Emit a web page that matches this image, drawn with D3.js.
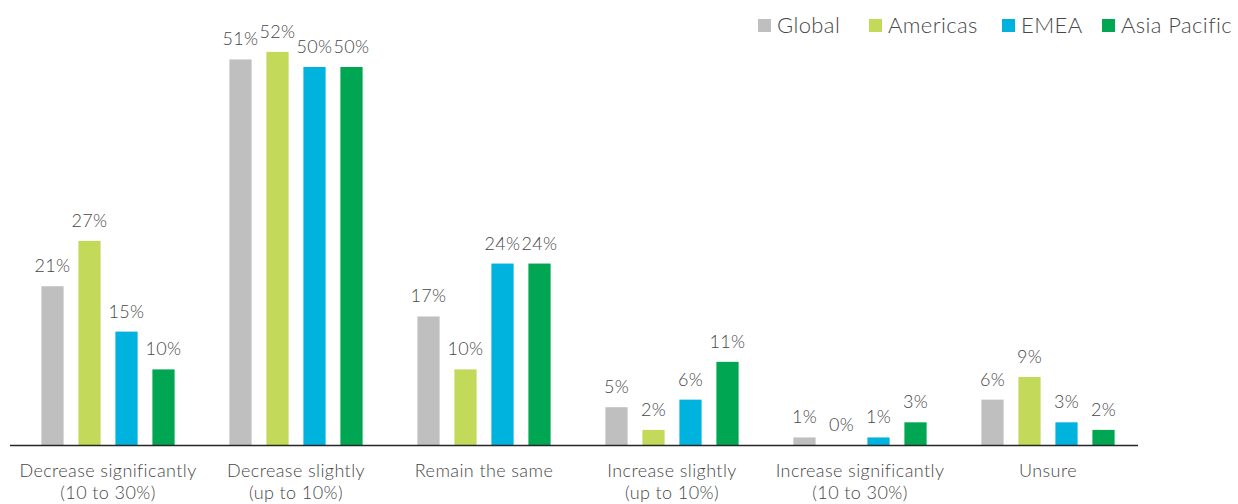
<!DOCTYPE html>
<html>
<head>
<meta charset="utf-8">
<script src="https://cdn.jsdelivr.net/npm/d3@7"></script>
<style>
  body { margin: 0; background: #fff; }
  svg { display: block; font-family: 'Lato', 'Open Sans', sans-serif; font-weight: 300; }
  text { fill: #474747; }
</style>
</head>
<body>
<svg id="chart" width="1238" height="504"></svg>
<script>
// ##### Data
var categories = [
  ['Decrease significantly', '(10 to 30%)'],
  ['Decrease slightly', '(up to 10%)'],
  ['Remain the same'],
  ['Increase slightly', '(up to 10%)'],
  ['Increase significantly', '(10 to 30%)'],
  ['Unsure']
];
var seriesNames = ['Global', 'Americas', 'EMEA', 'Asia Pacific'];
var globalValues = [21, 51, 17, 5, 1, 6];
var americasValues = [27, 52, 10, 2, 0, 9];
var emeaValues = [15, 50, 24, 6, 1, 3];
var asiaPacificValues = [10, 50, 24, 11, 3, 2];
var seriesColours = ['#bfbfbf', '#c3d95a', '#00b2de', '#00a651'];

var seriesValues = [globalValues, americasValues, emeaValues, asiaPacificValues];

// ##### Scales
var svg = d3.select('#chart');
var baseline = 445;

var x0 = d3.scaleBand()
  .domain(d3.range(categories.length))
  .range([14, 1142]);

var x1 = d3.scaleBand()
  .domain(seriesNames)
  .range([-74, 74])
  .paddingInner(0.4)
  .paddingOuter(0.2);

var y = d3.scaleLinear()
  .domain([0, 60])
  .range([baseline, baseline - 60 * 7.56]);

// ##### Bars and value labels
var groups = svg.append('g')
  .selectAll('g')
  .data(categories)
  .enter()
  .append('g')
  .attr('transform', function(d, i) { return 'translate(' + (x0(i) + x0.bandwidth() / 2) + ',0)'; });

groups.each(function(cat, ci) {
  var g = d3.select(this);
  var rows = seriesNames.map(function(name, si) {
    return { name: name, value: seriesValues[si][ci], colour: seriesColours[si] };
  });

  g.selectAll('rect')
    .data(rows)
    .enter()
    .append('rect')
    .attr('x', function(d) { return x1(d.name); })
    .attr('width', x1.bandwidth())
    .attr('y', function(d) { return y(d.value); })
    .attr('height', function(d) { return baseline - y(d.value); })
    .attr('fill', function(d) { return d.colour; });

  g.selectAll('text.value')
    .data(rows)
    .enter()
    .append('text')
    .attr('class', 'value')
    .attr('x', function(d) { return x1(d.name) + x1.bandwidth() / 2; })
    .attr('y', function(d) { return y(d.value) - 14; })
    .attr('text-anchor', 'middle')
    .style('font-size', '18px')
    .style('letter-spacing', '0.3px')
    .text(function(d) { return d.value + '%'; });

  // Category label, one or two lines
  var label = g.append('text')
    .attr('text-anchor', 'middle')
    .attr('y', 477)
    .style('font-size', '18px')
    .style('letter-spacing', '0.4px');
  cat.forEach(function(line, li) {
    label.append('tspan')
      .attr('x', 0)
      .attr('dy', li === 0 ? 0 : 22)
      .text(line);
  });
});

// ##### Axis line
svg.append('line')
  .attr('x1', 10)
  .attr('x2', 1138)
  .attr('y1', baseline + 0.5)
  .attr('y2', baseline + 0.5)
  .attr('stroke', '#262626')
  .attr('stroke-width', 1.3);

// ##### Legend
var legendX = [758, 869, 1002, 1102];
var legend = svg.append('g')
  .selectAll('g')
  .data(seriesNames)
  .enter()
  .append('g')
  .attr('transform', function(d, i) { return 'translate(' + legendX[i] + ',0)'; });

legend.append('rect')
  .attr('y', 19)
  .attr('width', 13)
  .attr('height', 13)
  .attr('fill', function(d, i) { return seriesColours[i]; });

legend.append('text')
  .attr('x', 19)
  .attr('y', 33)
  .style('font-size', '22px')
  .style('letter-spacing', '0.4px')
  .text(function(d) { return d; });
</script>
</body>
</html>
